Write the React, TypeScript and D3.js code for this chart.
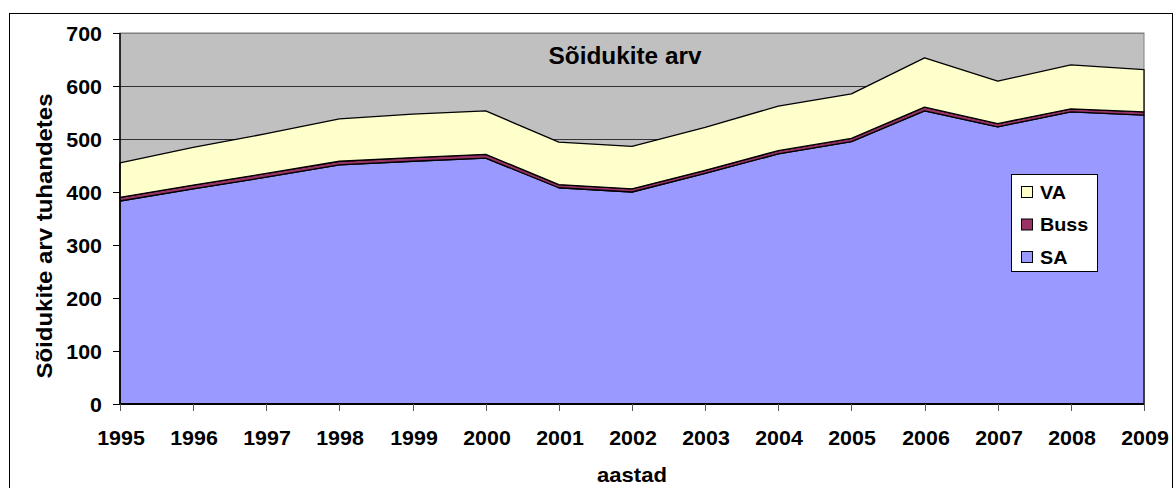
import React, { useEffect, useRef } from 'react';
import * as d3 from 'd3';

const years = ['1995', '1996', '1997', '1998', '1999', '2000', '2001', '2002', '2003', '2004', '2005', '2006', '2007', '2008', '2009'];
const saValues = [383, 406, 428, 451, 458, 464, 408, 400, 435, 472, 495, 553, 523, 551, 545];
const bussValues = [7, 7, 7, 7, 7, 7, 6, 6, 6, 6, 6, 7, 6, 6, 6];
const vaValues = [65, 71, 75, 80, 82, 82, 80, 80, 81, 84, 84, 93, 80, 83, 80];
const yTicks = [0, 100, 200, 300, 400, 500, 600, 700];

const seriesNames = ['SA', 'Buss', 'VA'];
const seriesColors = ['#9999FF', '#993366', '#FFFFCC'];

const App: React.FC = () => {
  const svgRef = useRef<SVGSVGElement | null>(null);

  useEffect(() => {
    const svg = d3.select(svgRef.current);
    svg.selectAll('*').remove();

    const width = 1174;
    const height = 488;
    const left = 120, right = 1144, top = 33, bottom = 404;
    const font = 'Arial, "Liberation Sans", sans-serif';

    svg.attr('width', width).attr('height', height);

    // bold text, a bit stretched horizontally like the Excel export
    const label = (g: any, tx: number, ty: number, str: string, size: number, sx: number, anchor: string, rot = 0, dy = '0') =>
      g.append('text')
        .attr('transform', `translate(${tx},${ty}) rotate(${rot}) scale(${sx},1)`)
        .attr('dy', dy)
        .attr('text-anchor', anchor)
        .attr('font-family', font).attr('font-weight', 'bold')
        .attr('font-size', size)
        .attr('fill', '#000')
        .text(str);

    // outer chart border
    svg.append('rect')
      .attr('x', 9.5).attr('y', 13.5)
      .attr('width', 1163).attr('height', 480)
      .attr('fill', '#fff').attr('stroke', '#000').attr('stroke-width', 1);

    const x = d3.scalePoint<string>().domain(years).range([left, right]);
    const y = d3.scaleLinear().domain([0, 700]).range([bottom, top]);

    // plot background
    svg.append('rect')
      .attr('x', left).attr('y', top)
      .attr('width', right - left).attr('height', bottom - top)
      .attr('fill', '#C0C0C0').attr('stroke', '#808080').attr('stroke-width', 1);

    // gridlines
    svg.append('g')
      .selectAll('line')
      .data(yTicks.slice(1))
      .enter()
      .append('line')
      .attr('x1', left).attr('x2', right)
      .attr('y1', d => Math.round(y(d)) + 0.5).attr('y2', d => Math.round(y(d)) + 0.5)
      .attr('stroke', d => (d === 700 ? '#808080' : '#333'))
      .attr('stroke-width', 1);

    // stacked data
    const rows = years.map((yr, i) => ({ year: yr, SA: saValues[i], Buss: bussValues[i], VA: vaValues[i] }));
    const stack = d3.stack<any>().keys(seriesNames);
    const layers = stack(rows);

    const area = d3.area<any>()
      .x(d => x(d.data.year) as number)
      .y0(d => y(d[0]))
      .y1(d => y(d[1]));

    svg.append('g')
      .selectAll('path')
      .data(layers)
      .enter()
      .append('path')
      .attr('d', d => area(d as any) as string)
      .attr('fill', (d, i) => seriesColors[i])
      .attr('stroke', '#000')
      .attr('stroke-width', 1.3)
      .attr('stroke-linejoin', 'round');

    // axes lines
    svg.append('line')
      .attr('x1', left).attr('x2', left).attr('y1', top).attr('y2', bottom)
      .attr('stroke', '#000').attr('stroke-width', 1.5);
    svg.append('line')
      .attr('x1', left).attr('x2', right).attr('y1', bottom).attr('y2', bottom)
      .attr('stroke', '#000').attr('stroke-width', 2);

    // y ticks
    const yg = svg.append('g');
    yTicks.forEach(t => {
      const yy = Math.round(y(t)) + 0.5;
      yg.append('line')
        .attr('x1', left - 7).attr('x2', left).attr('y1', yy).attr('y2', yy)
        .attr('stroke', '#000');
      label(yg, 102, yy, String(t), 20, 1.07, 'end', 0, '0.36em');
    });

    // x ticks
    const xg = svg.append('g');
    years.forEach(yr => {
      const xx = Math.round(x(yr) as number) + 0.5;
      xg.append('line')
        .attr('x1', xx).attr('x2', xx).attr('y1', bottom).attr('y2', bottom + 7)
        .attr('stroke', '#555');
      label(xg, xx + 0.5, 445, yr, 20, 1.07, 'middle');
    });

    // title
    label(svg, 625, 64, 'Sõidukite arv', 23, 1.06, 'middle');

    // axis titles
    label(svg, 632, 482, 'aastad', 21, 1.05, 'middle');
    label(svg, 52, 236, 'Sõidukite arv tuhandetes', 22, 1.09, 'middle', -90);

    // legend
    const lg = svg.append('g');
    lg.append('rect')
      .attr('x', 1011.5).attr('y', 174.5).attr('width', 86).attr('height', 97)
      .attr('fill', '#fff').attr('stroke', '#000');
    const legendItems = [2, 1, 0];
    legendItems.forEach((si, k) => {
      const cy = 192 + k * 32.5;
      lg.append('rect')
        .attr('x', 1021.5).attr('y', cy - 5.5).attr('width', 11).attr('height', 11)
        .attr('fill', seriesColors[si]).attr('stroke', '#000').attr('stroke-width', 1);
      label(lg, 1040, cy, seriesNames[si], 19, 1.04, 'start', 0, '0.36em');
    });
  }, []);

  return (
    <div style={{ position: 'absolute', left: 0, top: 0 }}>
      <svg ref={svgRef} style={{ display: 'block' }} />
    </div>
  );
};

export default App;
